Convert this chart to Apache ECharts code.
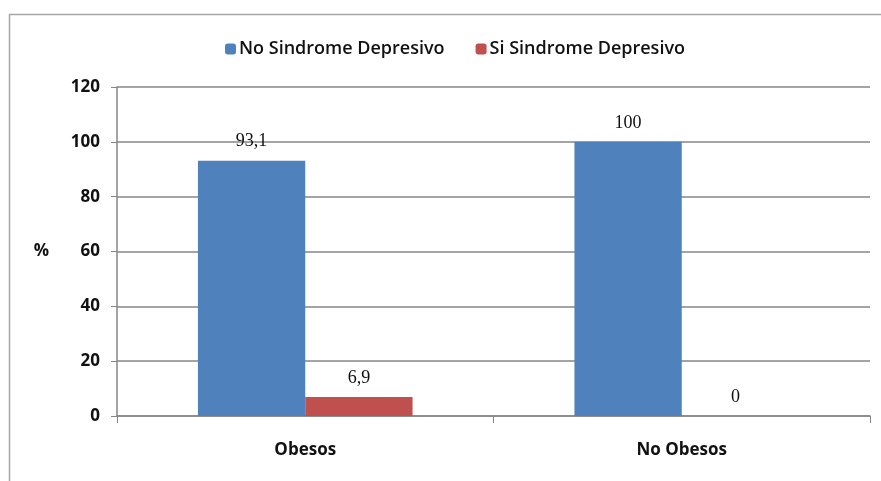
<!DOCTYPE html>
<html><head><meta charset="utf-8">
<script src="https://cdn.jsdelivr.net/npm/echarts@6/dist/echarts.min.js"></script>
<style>html,body{margin:0;padding:0;background:#fff}#c{width:881px;height:481px}</style>
</head><body><div id="c"></div>
<script>
const categories = ['Obesos', 'No Obesos'];
const seriesNames = ['No Sindrome Depresivo', 'Si Sindrome Depresivo'];
const noSindrome = [93.1, 100];
const siSindrome = [6.9, 0];
const yTicks = [0, 20, 40, 60, 80, 100, 120];

const chart = echarts.init(document.getElementById('c'), null, {renderer: 'canvas'});
const labelStyle = {
  show: true, position: 'top', distance: 10,
  fontFamily: 'Liberation Serif', fontSize: 18, color: '#111',
  formatter: p => String(p.value).replace('.', ',')
};
chart.setOption({
  animation: false,
  backgroundColor: '#fff',
  graphic: [{
    type: 'rect', silent: true, z: -1,
    shape: {x: 9.5, y: 14.5, width: 900, height: 500},
    style: {fill: 'none', stroke: '#a6a6a6', lineWidth: 1.5}
  }],
  legend: {
    left: 220, top: 35, itemWidth: 11, itemHeight: 11, itemGap: 31,
    textStyle: {fontFamily: 'Open Sans', fontWeight: 600, fontSize: 18, color: '#111', padding: [0, 0, 0, -2]},
    data: seriesNames
  },
  grid: {left: 117, right: 11, top: 87, bottom: 65},
  xAxis: {
    type: 'category', data: categories,
    axisLine: {lineStyle: {color: '#868686', width: 1.5}},
    axisTick: {show: true, length: 7, lineStyle: {color: '#868686'}},
    axisLabel: {fontFamily: 'Open Sans', fontWeight: 'bold', fontSize: 17, color: '#111', margin: 26}
  },
  yAxis: {
    type: 'value', min: yTicks[0], max: yTicks[yTicks.length - 1], interval: 20,
    name: '%', nameLocation: 'middle', nameRotate: 0, nameGap: 68,
    nameTextStyle: {fontFamily: 'Open Sans', fontWeight: 'bold', fontSize: 17, color: '#111'},
    axisLine: {show: true, lineStyle: {color: '#868686', width: 1.5}},
    axisTick: {show: true, length: 6, lineStyle: {color: '#868686'}},
    axisLabel: {fontFamily: 'Open Sans', fontWeight: 'bold', fontSize: 17, color: '#111', margin: 17},
    splitLine: {lineStyle: {color: '#868686', width: 1.5}}
  },
  series: [
    {name: seriesNames[0], type: 'bar', data: noSindrome, barGap: '0%', barCategoryGap: '43%',
     itemStyle: {color: '#4F81BD'}, label: labelStyle},
    {name: seriesNames[1], type: 'bar', data: siSindrome, barGap: '0%', barCategoryGap: '43%',
     itemStyle: {color: '#C0504D'}, label: labelStyle}
  ]
});
</script></body></html>
